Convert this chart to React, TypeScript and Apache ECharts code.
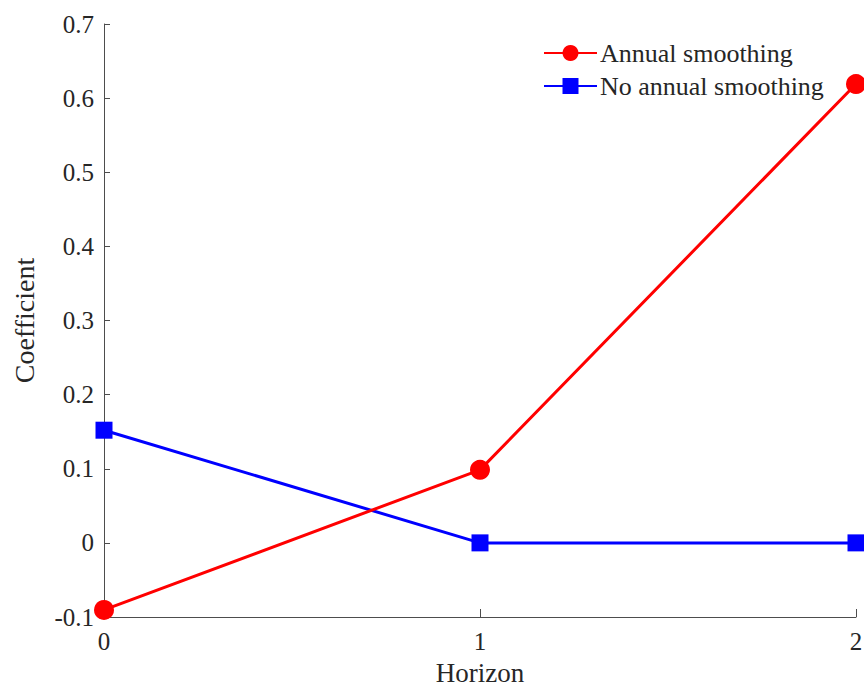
import React, { useEffect, useRef } from "react";
import * as echarts from "echarts";

const horizons = [0, 1, 2];
const annualSmoothing = [-0.0905, 0.0985, 0.619];
const noAnnualSmoothing = [0.152, 0.0, 0.0];
const yTicks = [-0.1, 0, 0.1, 0.2, 0.3, 0.4, 0.5, 0.6, 0.7];

const FONT = "Liberation Serif";
const TEXT = "#262626";
const AXIS = "#4d4d4d";

export default function App() {
  const ref = useRef<HTMLDivElement>(null);
  useEffect(() => {
    if (!ref.current) return;
    const chart = echarts.init(ref.current, null, { renderer: "svg" });
    chart.setOption({
      animation: false,
      backgroundColor: "#ffffff",
      textStyle: { fontFamily: FONT, color: TEXT },
      grid: { left: 104, top: 24, right: 8, bottom: 71, containLabel: false, outerBoundsMode: "none" },
      legend: {
        orient: "vertical",
        left: 543,
        top: 40,
        padding: 0,
        itemWidth: 53,
        itemHeight: 20,
        itemGap: 7,
        textStyle: { fontFamily: FONT, fontSize: 26, color: TEXT, padding: [0, 0, 0, -2] },
        data: ["Annual smoothing", "No annual smoothing"],
      },
      xAxis: {
        type: "value",
        min: 0,
        max: 2,
        interval: 1,
        name: "Horizon",
        nameLocation: "middle",
        nameGap: 42,
        nameTextStyle: { fontFamily: FONT, fontSize: 27, color: TEXT },
        axisLine: { show: true, onZero: false, lineStyle: { color: AXIS, width: 1 } },
        axisTick: { show: true, inside: true, length: 8, lineStyle: { color: AXIS } },
        axisLabel: { fontFamily: FONT, fontSize: 25, color: TEXT, margin: 12 },
        splitLine: { show: false },
      },
      yAxis: {
        type: "value",
        min: -0.1,
        max: 0.7,
        interval: 0.1,
        name: "Coefficient",
        nameLocation: "middle",
        nameGap: 66,
        nameTextStyle: { fontFamily: FONT, fontSize: 28, color: TEXT },
        axisLine: { show: true, onZero: false, lineStyle: { color: AXIS, width: 1 } },
        axisTick: { show: true, inside: true, length: 6, lineStyle: { color: AXIS } },
        axisLabel: {
          fontFamily: FONT,
          fontSize: 25,
          color: TEXT,
          margin: 10,
          formatter: (v: number) => {
            const r = Math.round(v * 10) / 10;
            const match = yTicks.find((t) => Math.abs(t - r) < 1e-9);
            return match === 0 ? "0" : String(match ?? r);
          },
        },
        splitLine: { show: false },
      },
      series: [
        {
          name: "Annual smoothing",
          type: "line",
          data: horizons.map((h, i) => [h, annualSmoothing[i]]),
          symbol: "circle",
          symbolSize: 20,
          color: "#ff0000",
          lineStyle: { color: "#ff0000", width: 3 },
          itemStyle: { color: "#ff0000" },
          clip: false,
          z: 3,
        },
        {
          name: "No annual smoothing",
          type: "line",
          data: horizons.map((h, i) => [h, noAnnualSmoothing[i]]),
          symbol: "rect",
          symbolSize: 17,
          color: "#0000ff",
          lineStyle: { color: "#0000ff", width: 3 },
          itemStyle: { color: "#0000ff" },
          clip: false,
          z: 2,
        },
      ],
    });
    return () => chart.dispose();
  }, []);
  return <div ref={ref} style={{ width: 864, height: 688, position: "absolute", left: 0, top: 0 }} />;
}
